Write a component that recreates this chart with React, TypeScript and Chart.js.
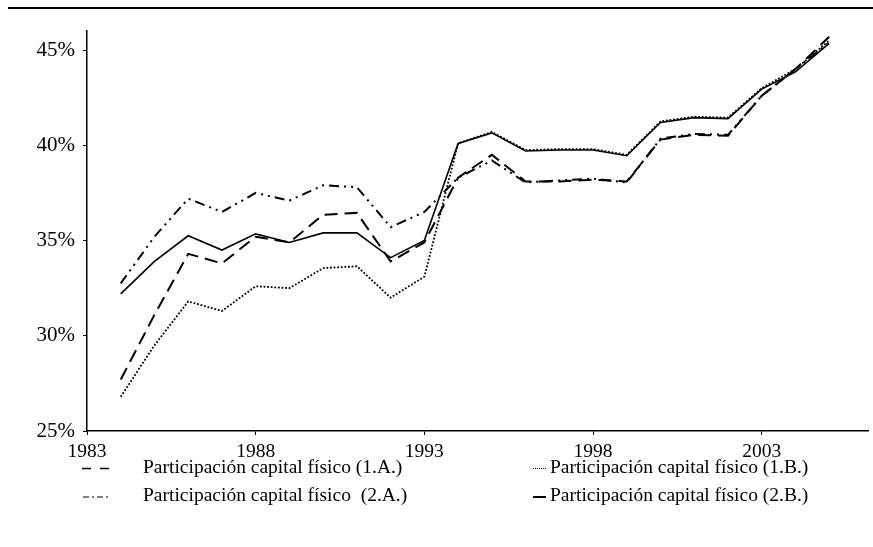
import React, { useEffect, useRef } from "react";
import { Chart, registerables } from "chart.js";

Chart.register(...registerables);

const years = [1984, 1985, 1986, 1987, 1988, 1989, 1990, 1991, 1992, 1993, 1994, 1995, 1996, 1997, 1998, 1999, 2000, 2001, 2002, 2003, 2004, 2005];

const serie1A = [27.7, 31.1, 34.3, 33.8, 35.2, 34.9, 36.35, 36.45, 33.9, 34.9, 38.3, 39.5, 38.1, 38.1, 38.2, 38.1, 40.3, 40.55, 40.5, 42.6, 44.0, 45.7];
const serie1B = [26.8, 29.5, 31.8, 31.3, 32.6, 32.5, 33.55, 33.65, 32.0, 33.1, 40.1, 40.7, 39.75, 39.8, 39.8, 39.5, 41.25, 41.5, 41.45, 43.0, 44.0, 45.5];
const serie2A = [32.75, 35.2, 37.2, 36.5, 37.5, 37.1, 37.9, 37.8, 35.7, 36.5, 38.3, 39.2, 38.05, 38.15, 38.25, 38.05, 40.35, 40.6, 40.55, 42.6, 44.0, 45.4];
const serie2B = [32.2, 33.9, 35.25, 34.5, 35.35, 34.9, 35.4, 35.4, 34.1, 35.0, 40.1, 40.65, 39.7, 39.75, 39.75, 39.45, 41.2, 41.45, 41.4, 42.95, 43.85, 45.35];

const labels = [
  "Participación capital físico (1.A.)",
  "Participación capital físico (1.B.)",
  "Participación capital físico  (2.A.)",
  "Participación capital físico (2.B.)",
];

const xTicks = [1983, 1988, 1993, 1998, 2003];
const yTicks = [25, 30, 35, 40, 45];

const FONT = '"Liberation Serif", "Times New Roman", serif';

const decorPlugin = {
  id: "decor",
  afterDraw(chart: any) {
    const ctx = chart.ctx as CanvasRenderingContext2D;
    ctx.save();
    // top rule
    ctx.strokeStyle = "#000";
    ctx.lineWidth = 2;
    ctx.setLineDash([]);
    ctx.beginPath();
    ctx.moveTo(8, 8);
    ctx.lineTo(873, 8);
    ctx.stroke();

    const items = [
      { text: labels[0], x0: 82, x1: 110, tx: 143, y: 467.5, dash: [9, 9], w: 1.5 },
      { text: labels[1], x0: 533, x1: 547, tx: 550, y: 467.5, dash: [1, 1], w: 1 },
      { text: labels[2], x0: 83, x1: 111, tx: 143, y: 496, dash: [6, 3, 2, 3], w: 1.2 },
      { text: labels[3], x0: 533, x1: 546, tx: 550, y: 496, dash: [], w: 2 },
    ];
    ctx.fillStyle = "#000";
    ctx.font = `19.5px ${FONT}`;
    ctx.textBaseline = "middle";
    ctx.textAlign = "left";
    for (const it of items) {
      ctx.lineWidth = it.w;
      ctx.setLineDash(it.dash);
      ctx.beginPath();
      ctx.moveTo(it.x0, it.y + 1);
      ctx.lineTo(it.x1, it.y + 1);
      ctx.stroke();
      ctx.setLineDash([]);
      ctx.fillText(it.text, it.tx, it.y);
    }
    ctx.restore();
  },
};

export default function App() {
  const ref = useRef<HTMLCanvasElement | null>(null);

  useEffect(() => {
    document.body.style.margin = "0";
    const canvas = ref.current!;
    const chart = new Chart(canvas, {
      type: "line",
      data: {
        datasets: [
          {
            label: labels[1],
            data: years.map((y, i) => ({ x: y, y: serie1B[i] })),
            borderColor: "#000",
            borderWidth: 1.8,
            borderDash: [1.8, 1.8],
            pointRadius: 0,
            tension: 0,
            fill: false,
          },
          {
            label: labels[0],
            data: years.map((y, i) => ({ x: y, y: serie1A[i] })),
            borderColor: "#000",
            borderWidth: 2,
            borderDash: [13, 7],
            pointRadius: 0,
            tension: 0,
            fill: false,
          },
          {
            label: labels[2],
            data: years.map((y, i) => ({ x: y, y: serie2A[i] })),
            borderColor: "#000",
            borderWidth: 2,
            borderDash: [10, 5, 2, 5, 2, 5],
            pointRadius: 0,
            tension: 0,
            fill: false,
          },
          {
            label: labels[3],
            data: years.map((y, i) => ({ x: y, y: serie2B[i] })),
            borderColor: "#000",
            borderWidth: 1.6,
            pointRadius: 0,
            tension: 0,
            fill: false,
          },
        ],
      },
      options: {
        responsive: false,
        animation: false,
        devicePixelRatio: 1,
        layout: { padding: { top: 31, right: 5, left: 0, bottom: 0 } },
        plugins: {
          legend: { display: false },
          tooltip: { enabled: false },
        },
        scales: {
          x: {
            type: "linear",
            min: 1983,
            max: 2006.15,
            afterBuildTicks: (s: any) => {
              s.ticks = xTicks.map((v) => ({ value: v }));
            },
            afterFit: (s: any) => {
              s.height = 116;
            },
            ticks: {
              callback: (v: any) => String(v),
              color: "#000",
              font: { family: FONT, size: 19.5 },
              padding: 5,
              maxRotation: 0,
              autoSkip: false,
            },
            grid: {
              drawOnChartArea: false,
              drawTicks: true,
              tickLength: 4,
              color: "#000",
              lineWidth: 1,
            },
            border: { color: "#000", width: 1.5 },
          },
          y: {
            type: "linear",
            min: 25,
            max: 46,
            afterBuildTicks: (s: any) => {
              s.ticks = yTicks.map((v) => ({ value: v }));
            },
            afterFit: (s: any) => {
              s.width = 87;
            },
            ticks: {
              callback: (v: any) => `${v}%`,
              color: "#000",
              font: { family: FONT, size: 21 },
              padding: 8,
            },
            grid: {
              drawOnChartArea: false,
              drawTicks: true,
              tickLength: 4,
              color: "#000",
              lineWidth: 1,
            },
            border: { color: "#000", width: 1.5 },
          },
        },
      },
      plugins: [decorPlugin],
    } as any);
    return () => chart.destroy();
  }, []);

  return (
    <div style={{ width: 873, height: 547 }}>
      <canvas ref={ref} width={873} height={547} style={{ display: "block" }} />
    </div>
  );
}
